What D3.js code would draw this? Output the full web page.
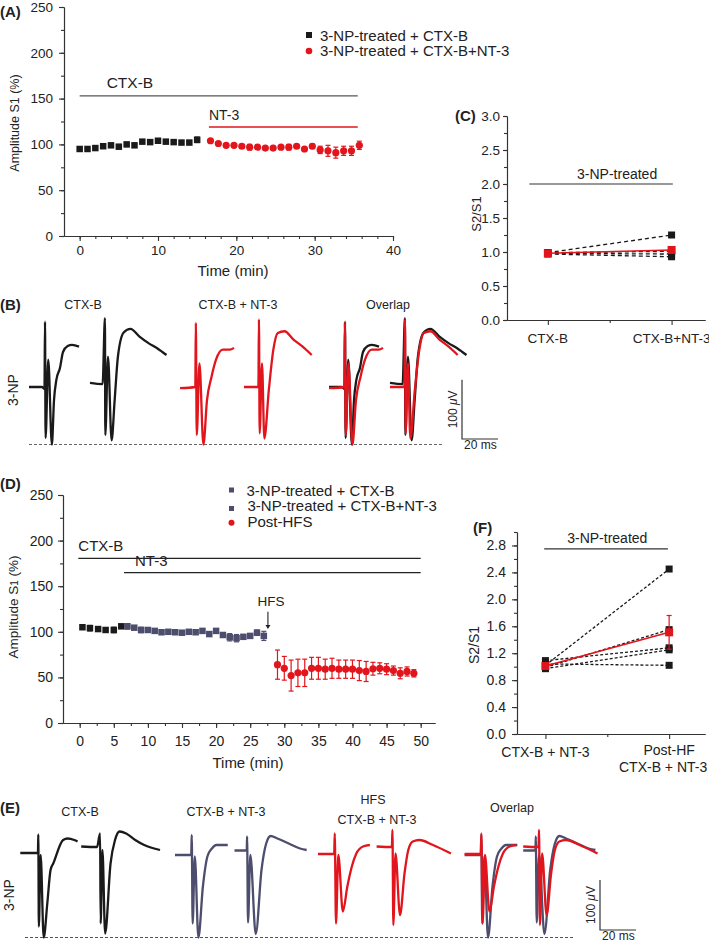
<!DOCTYPE html>
<html>
<head>
<meta charset="utf-8">
<script src="https://cdn.jsdelivr.net/npm/d3@7"></script>
<style>
  body { margin: 0; background: #fff; overflow: hidden; }
</style>
</head>
<body>
<script>
// ---------- data ----------
// panel A : amplitude S1 (%) vs time (min)
const timeA_ctx = [0, 1, 2, 3, 4, 5, 6, 7, 8, 9, 10, 11, 12, 13, 14, 15]
const ampA_ctx = [95, 95, 96, 98, 99, 97.5, 100, 99, 103, 102.5, 104, 103, 102.5, 102, 102, 105]
const errA_ctx = [1, 1, 1, 1, 1.5, 1, 1.5, 1, 1, 1, 1, 1, 1, 1, 1.5, 3]
const timeA_nt3 = [16.7, 17.7, 18.7, 19.7, 20.7, 21.7, 22.7, 23.7, 24.7, 25.7, 26.7, 27.7, 28.7, 29.7, 30.7, 31.7, 32.7, 33.7, 34.7, 35.7]
const ampA_nt3 = [104, 101, 99, 99, 98, 97, 97, 96, 96, 97, 97, 98, 95, 98, 94, 93, 91, 93, 93, 99]
const errA_nt3 = [1.5, 1.5, 1, 1.5, 2, 3, 1.5, 1, 1, 1.5, 3, 2, 1.5, 2.5, 4, 6, 6, 5, 5, 4.5]
const legendA = ['3-NP-treated + CTX-B', '3-NP-treated + CTX-B+NT-3']
const ticksA_x = [0, 10, 20, 30, 40]
const ticksA_y = [0, 50, 100, 150, 200, 250]
const barsA = [{ label: 'CTX-B', level: 153, from: 0, to: 35.5 }, { label: 'NT-3', level: 119, from: 16.5, to: 35.5 }]

// panel C : S2/S1 paired values
const catsC = ['CTX-B', 'CTX-B+NT-3']
const pairsC = [[0.99, 1.25], [0.98, 0.97], [0.97, 0.93], [0.99, 1.01]]
const meanC = [0.98, 1.03]
const semC = [0.02, 0.03]
const ticksC_y = [0, 0.5, 1, 1.5, 2, 2.5, 3]

// panel D
const timeD_ctx = [0.4, 1.5, 2.7, 3.8, 5.0, 6.1]
const ampD_ctx = [105, 104, 103, 102, 102, 106]
const errD_ctx = [2, 3, 1.5, 1.5, 3, 2]
const timeD_nt3 = [7, 8, 9, 10, 11, 12, 13, 14, 15, 16, 17, 18, 19, 20, 21, 22, 23, 24, 25, 26, 27]
const ampD_nt3 = [106, 104.5, 102, 102, 101, 99.5, 100, 99.5, 99, 100, 99.5, 101, 97.5, 101, 96.5, 94, 93, 94.5, 95.5, 99, 95.5]
const errD_nt3 = [3, 2, 3, 2, 2, 2, 2, 2, 2, 2, 2, 2, 2, 2, 2, 4, 4, 2, 2, 3, 5]
const timeD_hfs = [29, 30, 31, 32, 33, 34, 35, 36, 37, 38, 39, 40, 41, 42, 43, 44, 45, 46, 47, 48, 49]
const ampD_hfs = [64, 60, 52, 55, 55, 60, 60, 59, 60, 59, 59, 59, 57.5, 56.5, 59.5, 60, 59, 57.5, 54.5, 56.5, 54.5]
const errD_hfs = [16, 13, 17, 15, 15, 12, 12, 11, 11, 10, 10, 10, 11, 11, 7, 6, 6, 5, 6, 5, 4]
const legendD = ['3-NP-treated + CTX-B', '3-NP-treated + CTX-B+NT-3', 'Post-HFS']
const ticksD_x = [0, 5, 10, 15, 20, 25, 30, 35, 40, 45, 50]
const ticksD_y = [0, 50, 100, 150, 200, 250]
const barsD = [{ label: 'CTX-B', level: 180.5, from: -0.2, to: 50 }, { label: 'NT-3', level: 164.8, from: 6.5, to: 50 }]
const hfsTime = 27.6

// panel F
const catsF = [['CTX-B + NT-3'], ['Post-HF', 'CTX-B + NT-3']]
const pairsF = [[1.02, 2.45], [0.99, 1.55], [1.09, 1.28], [0.97, 1.25], [1.04, 1.02]]
const meanF = [1.01, 1.51]
const semF = [0.04, 0.25]
const ticksF_y = [0, 0.4, 0.8, 1.2, 1.6, 2.0, 2.4, 2.8]

// traces: [ms, µV] relative to baseline
const traceB_ctx1 = [[0, 0], [7.2, 0], [8.6, -3], [8.9, 110], [9.2, -86], [10.7, 46], [12.7, -97], [13.9, -22], [15.2, 12], [17.2, 32], [18.9, 59], [21.5, 69], [23.9, 71], [27.8, 68]]
const traceB_ctx2 = [[0, 7], [7, 5], [8.3, 116], [8.5, -81], [10, 51], [12, -90], [13.7, -22], [15.5, 51], [18.7, 92], [22.5, 98], [27.5, 85], [32.5, 74], [37.5, 65], [42.5, 54]]
const traceB_nt1 = [[0, -2], [8.5, 0], [8.8, 108], [9.3, -81], [10.8, 40], [13, -97], [15, -22], [17.5, 17], [20, 46], [23.8, 63], [27.6, 63], [30, 66]]
const traceB_nt2 = [[0, 0], [8, 0], [8.3, 114], [8.7, -78], [10, 40], [11.3, -87], [13.8, -5], [16.3, 63], [18.8, 91], [22.5, 94], [27.5, 80], [32.6, 68], [37.6, 54]]
const traceE_ctx1 = [[0, 0], [8.8, 0], [9.8, 1], [10, 37], [10.3, -147], [11.3, -4], [13, -169], [15, -101], [16.8, -34], [18.3, -21], [23.8, 26], [26.3, 29], [30, 26], [31.8, 23]]
const traceE_ctx2 = [[0, 13], [8.8, 12], [10.5, 39], [10.8, -141], [11.8, 6], [13.3, -161], [16.3, -21], [18.8, 26], [21.3, 43], [25, 39], [30, 26], [35, 16], [43.8, 6]]
const traceE_nt1 = [[0, -4], [9, -4], [9.3, 36], [9.8, -141], [11, -7], [13, -169], [15.5, -67], [18, -7], [20.5, 9], [23, 16], [26.8, 16], [29.3, 16]]
const traceE_nt2 = [[0, 5], [6.8, 5], [7, 33], [7.5, -139], [8.8, -4], [11.8, -162], [15, -34], [17.6, 19], [20.1, 34], [23.8, 29], [30.1, 19], [36.4, 9], [40.1, 6]]
const traceE_hfs1 = [[0, -2], [9, -2], [9.3, 39], [10, -141], [11.3, -4], [13.8, -117], [16.3, -67], [18.8, -27], [21.3, -1], [25, 13], [28.8, 16]]
const traceE_hfs2 = [[0, 13], [8.5, 12], [8.8, 46], [9.3, -144], [10.5, -1], [13, -124], [15.5, -41], [17.6, 6], [20.1, 23], [23.8, 26], [31.3, 16], [41.3, -1]]

// ---------- setup ----------
const FONT = '"Liberation Sans", Arial, Helvetica, sans-serif'
const BLACK = '#1a1a1a'
const RED = '#e2141c'
const BLUE = '#4d4d6e'
const GREY = '#555'

const svg = d3.select('body').append('svg')
  .attr('width', 709)
  .attr('height', 947)
  .style('font-family', FONT)

function txt(x, y, s, size, opt = {}) {
  return svg.append('text')
    .attr('x', x).attr('y', y)
    .attr('font-size', size)
    .attr('text-anchor', opt.anchor || 'start')
    .attr('font-weight', opt.weight || 'normal')
    .attr('fill', opt.fill || '#222')
    .text(s)
}

function vtxt(cx, cy, s, size) {
  return svg.append('text')
    .attr('transform', `translate(${cx},${cy}) rotate(-90)`)
    .attr('text-anchor', 'middle')
    .attr('dy', '0.35em')
    .attr('font-size', size)
    .attr('fill', '#222')
    .text(s)
}

function axis(tx, ty, make, scale, major, minor, fmt, size, pad, tick) {
  const g = svg.append('g').attr('transform', `translate(${tx},${ty})`)
  g.append('g').call(make(scale).tickValues(minor).tickSize(3).tickSizeOuter(0).tickFormat(''))
  g.append('g').call(make(scale).tickValues(major).tickSize(tick || 5).tickPadding(pad).tickSizeOuter(0).tickFormat(fmt))
  g.selectAll('g').attr('font-family', FONT).attr('font-size', size)
  g.selectAll('path, line').attr('stroke', '#333').attr('stroke-width', 1.1)
  g.selectAll('text').attr('fill', '#222')
  return g
}

function errBars(xs, ys, es, x, y, color, capW) {
  const g = svg.append('g').attr('stroke', color).attr('stroke-width', 1.2)
  const d = xs.map((t, i) => ({ t, v: ys[i], e: es[i] }))
  g.selectAll('.v').data(d).join('line')
    .attr('x1', p => x(p.t)).attr('x2', p => x(p.t))
    .attr('y1', p => y(p.v - p.e)).attr('y2', p => y(p.v + p.e))
  g.selectAll('.t').data(d).join('line')
    .attr('x1', p => x(p.t) - capW).attr('x2', p => x(p.t) + capW)
    .attr('y1', p => y(p.v + p.e)).attr('y2', p => y(p.v + p.e))
  g.selectAll('.b').data(d).join('line')
    .attr('x1', p => x(p.t) - capW).attr('x2', p => x(p.t) + capW)
    .attr('y1', p => y(p.v - p.e)).attr('y2', p => y(p.v - p.e))
}

function squares(xs, ys, x, y, color, size) {
  svg.append('g').selectAll('rect').data(xs).join('rect')
    .attr('x', (t) => x(t) - size / 2)
    .attr('y', (t, i) => y(ys[i]) - size / 2)
    .attr('width', size).attr('height', size)
    .attr('fill', color)
}

function circles(xs, ys, x, y, color, r) {
  svg.append('g').selectAll('circle').data(xs).join('circle')
    .attr('cx', t => x(t)).attr('cy', (t, i) => y(ys[i]))
    .attr('r', r).attr('fill', color)
}

// ---------- panel A ----------
const xA = d3.scaleLinear().domain([-2, 40]).range([64, 393])
const yA = d3.scaleLinear().domain([0, 250]).range([236, 7])
axis(64, 0, d3.axisLeft, yA, ticksA_y, d3.range(0, 251, 25), d3.format('d'), 13.5, 6)
axis(0, 236, d3.axisBottom, xA, ticksA_x, d3.range(0, 41, 2), d3.format('d'), 13.5, 4)
txt(0, 17, '(A)', 15, { weight: 'bold' })
vtxt(15, 123, 'Amplitude S1  (%)', 12.5)
txt(233, 276, 'Time (min)', 15, { anchor: 'middle' })

barsA.forEach((b, i) => {
  const c = i === 0 ? GREY : RED
  svg.append('line')
    .attr('x1', xA(b.from)).attr('x2', xA(b.to))
    .attr('y1', yA(b.level)).attr('y2', yA(b.level))
    .attr('stroke', c).attr('stroke-width', 1.3)
  txt(xA(b.from) + (i === 0 ? 27 : 0), yA(b.level) - (i === 0 ? 8 : 7), b.label, i === 0 ? 15.5 : 14)
})

errBars(timeA_ctx, ampA_ctx, errA_ctx, xA, yA, BLACK, 2.5)
squares(timeA_ctx, ampA_ctx, xA, yA, BLACK, 6.5)
errBars(timeA_nt3, ampA_nt3, errA_nt3, xA, yA, RED, 2.5)
circles(timeA_nt3, ampA_nt3, xA, yA, RED, 3.6)

svg.append('rect').attr('x', 306).attr('y', 32).attr('width', 6).attr('height', 6).attr('fill', BLACK)
svg.append('circle').attr('cx', 309).attr('cy', 51).attr('r', 3.3).attr('fill', RED)
legendA.forEach((s, i) => txt(320, 40.5 + i * 15.5, s, 15))

// ---------- panel C ----------
const xC = d3.scaleLinear().domain([0.67, 2.27]).range([507, 705])
const yC = d3.scaleLinear().domain([0, 3]).range([320, 116])
axis(507, 0, d3.axisLeft, yC, ticksC_y, d3.range(0, 3.01, 0.25), d3.format('.1f'), 13.5, 3, 4)
axis(0, 320, d3.axisBottom, xC, [1, 2], [1.5], '', 13, 3)
txt(455, 121, '(C)', 15, { weight: 'bold' })
vtxt(476, 214, 'S2/S1', 13)
catsC.forEach((c, i) => txt(xC(i + 1), 343, c, 13.5, { anchor: 'middle' }))
svg.append('line').attr('x1', xC(0.85)).attr('x2', xC(2.01))
  .attr('y1', yC(2)).attr('y2', yC(2)).attr('stroke', '#333').attr('stroke-width', 1.2)
txt(xC(1.56), 179, '3-NP-treated', 14, { anchor: 'middle' })

pairsC.forEach(p => {
  svg.append('line')
    .attr('x1', xC(1)).attr('y1', yC(p[0])).attr('x2', xC(2)).attr('y2', yC(p[1]))
    .attr('stroke', BLACK).attr('stroke-width', 1.3).attr('stroke-dasharray', '4,3')
  squares([1, 2], p, xC, yC, BLACK, 7)
})
svg.append('line')
  .attr('x1', xC(1)).attr('y1', yC(meanC[0])).attr('x2', xC(2)).attr('y2', yC(meanC[1]))
  .attr('stroke', RED).attr('stroke-width', 1.5)
errBars([1, 2], meanC, semC, xC, yC, RED, 2.5)
squares([1, 2], meanC, xC, yC, RED, 8)

// ---------- traces ----------
const tScale = d3.scaleLinear().domain([0, 20]).range([0, 36])
const vB = d3.scaleLinear().domain([0, 100]).range([0, -59.3])
const vE = d3.scaleLinear().domain([0, 100]).range([0, -50])

function trace(data, x0, y0, vS, color) {
  const line = d3.line()
    .x(d => x0 + tScale(d[0]))
    .y(d => y0 + vS(d[1]))
    .curve(d3.curveMonotoneX)
  svg.append('path').datum(data)
    .attr('d', line)
    .attr('fill', 'none')
    .attr('stroke', color)
    .attr('stroke-width', 2.3)
    .attr('stroke-linejoin', 'round')
}

function scaleBar(x, y, vS, size) {
  const h = -vS(100)
  const w = tScale(20)
  svg.append('path')
    .attr('d', `M${x},${y - h}V${y}H${x + w}`)
    .attr('fill', 'none').attr('stroke', '#333').attr('stroke-width', 1.2)
  svg.append('text')
    .attr('transform', `translate(${x - 9},${y - h / 2}) rotate(-90)`)
    .attr('text-anchor', 'middle').attr('dy', '0.35em')
    .attr('font-size', size).attr('fill', '#222')
    .html('100 <tspan font-style="italic">μ</tspan>V')
  txt(x + 2, y + 10, '20 ms', size)
}

// ---------- panel B ----------
const baseB = 387
const posB = [29, 90, 180, 244, 329, 390]
txt(0, 310, '(B)', 15, { weight: 'bold' })
txt(83, 309, 'CTX-B', 12.5, { anchor: 'middle' })
txt(238, 309, 'CTX-B + NT-3', 12.5, { anchor: 'middle' })
txt(388, 309, 'Overlap', 12.5, { anchor: 'middle' })
vtxt(13, 390, '3-NP', 14)
const minB = d3.min([...traceB_ctx1, ...traceB_nt1], d => d[1])
svg.append('line').attr('x1', 29).attr('x2', 444)
  .attr('y1', baseB + vB(minB)).attr('y2', baseB + vB(minB))
  .attr('stroke', '#666').attr('stroke-width', 1.2).attr('stroke-dasharray', '3,2')
trace(traceB_ctx1, posB[0], baseB, vB, BLACK)
trace(traceB_ctx2, posB[1], baseB, vB, BLACK)
trace(traceB_nt1, posB[2], baseB, vB, RED)
trace(traceB_nt2, posB[3], baseB, vB, RED)
trace(traceB_ctx1, posB[4], baseB, vB, BLACK)
trace(traceB_nt1, posB[4], baseB, vB, RED)
trace(traceB_ctx2, posB[5], baseB, vB, BLACK)
trace(traceB_nt2, posB[5], baseB, vB, RED)
scaleBar(462, 439, vB, 12)

// ---------- panel D ----------
const xD = d3.scaleLinear().domain([-2.45, 52.1]).range([63, 435])
const yD = d3.scaleLinear().domain([0, 250]).range([723, 495])
axis(63, 0, d3.axisLeft, yD, ticksD_y, d3.range(0, 251, 25), d3.format('d'), 14, 5)
axis(0, 723, d3.axisBottom, xD, ticksD_x, d3.range(0, 52, 2.5), d3.format('d'), 14, 8)
txt(0, 489, '(D)', 15, { weight: 'bold' })
svg.append('text')
  .attr('transform', 'translate(13,607) rotate(-90)')
  .attr('text-anchor', 'middle').attr('dy', '0.35em')
  .attr('font-size', 13.5).attr('fill', '#222')
  .html('Amplitude S<tspan font-size="10">1</tspan>  (%)')
txt(248, 768, 'Time (min)', 15, { anchor: 'middle' })

barsD.forEach(b => {
  svg.append('line')
    .attr('x1', xD(b.from)).attr('x2', xD(b.to))
    .attr('y1', yD(b.level)).attr('y2', yD(b.level))
    .attr('stroke', '#222').attr('stroke-width', 1.3)
  txt(xD(b.from) + (b.label === 'NT-3' ? 11 : 0), yD(b.level) - 7, b.label, 15)
})

txt(xD(hfsTime) + 3, yD(128), 'HFS', 13.5, { anchor: 'middle' })
svg.append('line').attr('x1', xD(hfsTime)).attr('x2', xD(hfsTime))
  .attr('y1', yD(122)).attr('y2', yD(106)).attr('stroke', '#222').attr('stroke-width', 1.1)
svg.append('path')
  .attr('d', `M${xD(hfsTime) - 2.5},${yD(107.5)}L${xD(hfsTime)},${yD(103)}L${xD(hfsTime) + 2.5},${yD(107.5)}Z`)
  .attr('fill', '#222')

errBars(timeD_ctx, ampD_ctx, errD_ctx, xD, yD, BLACK, 2.5)
squares(timeD_ctx, ampD_ctx, xD, yD, BLACK, 6.5)
errBars(timeD_nt3, ampD_nt3, errD_nt3, xD, yD, BLUE, 2.5)
squares(timeD_nt3, ampD_nt3, xD, yD, BLUE, 6.5)
errBars(timeD_hfs, ampD_hfs, errD_hfs, xD, yD, RED, 2.5)
circles(timeD_hfs, ampD_hfs, xD, yD, RED, 3.6)

svg.append('rect').attr('x', 229).attr('y', 487.5).attr('width', 5).attr('height', 5).attr('fill', BLUE)
svg.append('rect').attr('x', 229).attr('y', 506).attr('width', 5).attr('height', 5).attr('fill', BLUE)
svg.append('circle').attr('cx', 231.5).attr('cy', 522.7).attr('r', 3).attr('fill', RED)
legendD.forEach((s, i) => txt(i === 0 ? 246.5 : 247.5, 495.5 + i * 15.5, s, 15))

// ---------- panel F ----------
const xF = d3.scaleLinear().domain([0.77, 2.29]).range([517, 705])
const yF = d3.scaleLinear().domain([0, 3]).range([734, 532])
axis(517, 0, d3.axisLeft, yF, ticksF_y, d3.range(0, 3.01, 0.2), d3.format('.1f'), 14, 6)
axis(0, 734, d3.axisBottom, xF, [1, 2], [1.5], '', 13, 3)
txt(473, 533, '(F)', 15, { weight: 'bold' })
vtxt(474, 645, 'S2/S1', 14)
catsF.forEach((lines, i) => lines.forEach((s, j) => {
  txt(xF(i + 1) - (i === 1 && j === 1 ? 6 : 0), (lines.length === 1 ? 757 : 755) + j * 17, s, 14, { anchor: 'middle' })
}))
svg.append('line').attr('x1', xF(0.99)).attr('x2', xF(1.99))
  .attr('y1', yF(2.75)).attr('y2', yF(2.75)).attr('stroke', '#333').attr('stroke-width', 1.2)
txt(xF(1.5), 543, '3-NP-treated', 14, { anchor: 'middle' })

pairsF.forEach(p => {
  svg.append('line')
    .attr('x1', xF(1)).attr('y1', yF(p[0])).attr('x2', xF(2)).attr('y2', yF(p[1]))
    .attr('stroke', BLACK).attr('stroke-width', 1.3).attr('stroke-dasharray', '3,2')
  squares([1, 2], p, xF, yF, BLACK, 7)
})
svg.append('line')
  .attr('x1', xF(1)).attr('y1', yF(meanF[0])).attr('x2', xF(2)).attr('y2', yF(meanF[1]))
  .attr('stroke', RED).attr('stroke-width', 1.5)
errBars([1, 2], meanF, semF, xF, yF, RED, 2.5)
squares([1, 2], meanF, xF, yF, RED, 8)

// ---------- panel E ----------
const baseE = 853
const posE = [20.3, 81.2, 175, 234.5, 318, 376.6, 464.6, 523.2]
txt(0, 813, '(E)', 15, { weight: 'bold' })
txt(80, 816, 'CTX-B', 12.5, { anchor: 'middle' })
txt(226, 816, 'CTX-B + NT-3', 12.5, { anchor: 'middle' })
txt(373, 804, 'HFS', 12.5, { anchor: 'middle' })
txt(377, 824, 'CTX-B + NT-3', 12.5, { anchor: 'middle' })
txt(512, 812, 'Overlap', 12.5, { anchor: 'middle' })
vtxt(9, 895, '3-NP', 14)
const minE = d3.min([...traceE_ctx1, ...traceE_nt1], d => d[1])
svg.append('line').attr('x1', 25).attr('x2', 573)
  .attr('y1', baseE + vE(minE)).attr('y2', baseE + vE(minE))
  .attr('stroke', RED).attr('stroke-width', 1.2).attr('stroke-dasharray', '3,2')
trace(traceE_ctx1, posE[0], baseE, vE, BLACK)
trace(traceE_ctx2, posE[1], baseE, vE, BLACK)
trace(traceE_nt1, posE[2], baseE, vE, BLUE)
trace(traceE_nt2, posE[3], baseE, vE, BLUE)
trace(traceE_hfs1, posE[4], baseE, vE, RED)
trace(traceE_hfs2, posE[5], baseE, vE, RED)
trace(traceE_nt1, posE[6], baseE, vE, BLUE)
trace(traceE_hfs1, posE[6], baseE, vE, RED)
trace(traceE_nt2, posE[7], baseE, vE, BLUE)
trace(traceE_hfs2, posE[7], baseE, vE, RED)
scaleBar(600, 930, vE, 12)
</script>
</body>
</html>
